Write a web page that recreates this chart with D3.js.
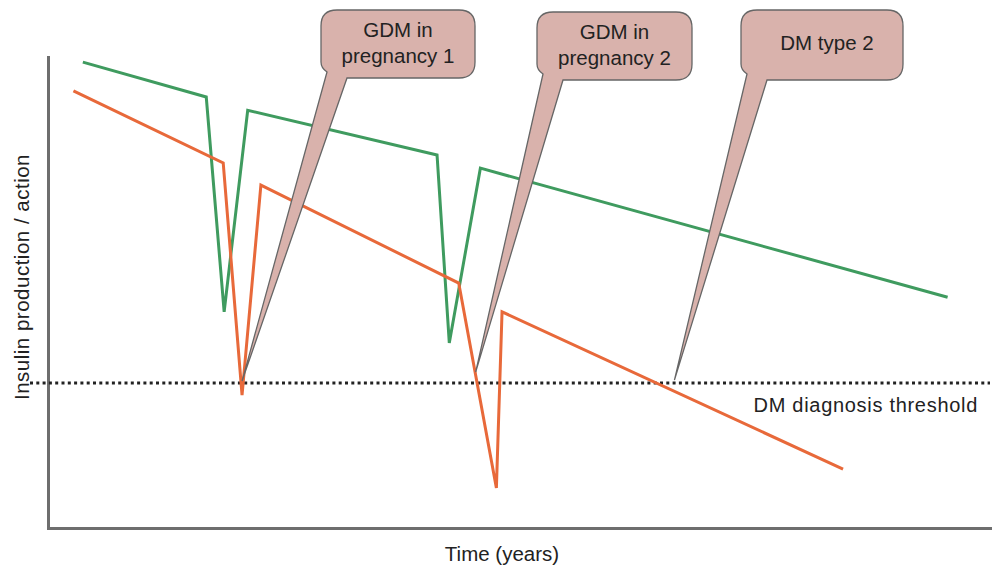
<!DOCTYPE html>
<html><head><meta charset="utf-8">
<script src="https://cdn.jsdelivr.net/npm/d3@7"></script>
<style>
html,body{margin:0;padding:0;background:#fff;}
svg{display:block;font-family:"Liberation Sans",Arial,Helvetica,sans-serif;}
</style></head>
<body>
<svg id="chart" width="992" height="566"></svg>
<script>
// ---- data (time units 0..100, insulin production/action 0..100) ----
const greenTime  = [3.7, 16.8, 18.7, 21.2, 41.3, 42.6, 45.9, 95.5];
const greenValue = [98.9, 91.5, 45.9, 88.7, 79.2, 39.3, 76.4, 49.0];
const orangeTime  = [2.7, 18.6, 20.6, 22.6, 43.6, 47.6, 48.2, 84.4];
const orangeValue = [92.8, 77.5, 28.2, 72.8, 52.0, 8.5, 45.9, 12.5];
const thresholdValue = 30.8;
const thresholdLabel = "DM diagnosis threshold";
const calloutLabels = [["GDM in", "pregnancy 1"], ["GDM in", "pregnancy 2"], ["DM type 2"]];
const calloutTime  = [20.6, 45.4, 66.5];
const calloutValue = [31.2, 33.1, 31.4];
const xLabel = "Time (years)";
const yLabel = "Insulin production / action";

const svg = d3.select("#chart");
const x = d3.scaleLinear().domain([0, 100]).range([48, 990]);
const y = d3.scaleLinear().domain([0, 100]).range([528, 57]);

// axes (no ticks)
const axisColor = "#6e6e6e";
const gx = svg.append("g").attr("transform", `translate(0,${y(0)})`)
  .call(d3.axisBottom(x).ticks(0).tickSizeOuter(0));
const gy = svg.append("g").attr("transform", `translate(${x(0)},0)`)
  .call(d3.axisLeft(y).ticks(0).tickSizeOuter(0));
[gx, gy].forEach(g => g.select(".domain").attr("stroke", axisColor).attr("stroke-width", 3).attr("stroke-linecap","square"));

// threshold dotted line
svg.append("line")
  .attr("x1", 30).attr("x2", 990)
  .attr("y1", y(thresholdValue)).attr("y2", y(thresholdValue))
  .attr("stroke", "#222").attr("stroke-width", 3).attr("stroke-dasharray", "3,3.3");
svg.append("text").attr("x", 978).attr("y", 412).attr("text-anchor", "end")
  .attr("font-size", 20).attr("fill", "#222").attr("letter-spacing", 0.7).text(thresholdLabel);

// series lines
const line = d3.line().x(d => x(d[0])).y(d => y(d[1]));
const greenData = greenTime.map((t, i) => [t, greenValue[i]]);
const orangeData = orangeTime.map((t, i) => [t, orangeValue[i]]);
svg.append("path").datum(greenData).attr("d", line)
  .attr("fill", "none").attr("stroke", "#3f9b5f").attr("stroke-width", 3).attr("stroke-linejoin", "miter");
svg.append("path").datum(orangeData).attr("d", line)
  .attr("fill", "none").attr("stroke", "#e8693a").attr("stroke-width", 3).attr("stroke-linejoin", "miter");

// callouts
const boxes = [
  {x0: 321, x1: 475, y0: 10, y1: 78},
  {x0: 537, x1: 692, y0: 12, y1: 80},
  {x0: 741, x1: 903, y0: 10, y1: 80}
];
const r = 16;
boxes.forEach((b, i) => {
  const tx = x(calloutTime[i]), ty = y(calloutValue[i]);
  const tailR = b.x0 + 26, tailLx = b.x0 + 6, tailLy = b.y1 - 6;
  const p = `M${b.x0 + r},${b.y0} H${b.x1 - r} Q${b.x1},${b.y0} ${b.x1},${b.y0 + r}
    V${b.y1 - r} Q${b.x1},${b.y1} ${b.x1 - r},${b.y1} H${tailR} L${tx},${ty} L${tailLx},${tailLy}
    Q${b.x0},${b.y1 - 10} ${b.x0},${b.y1 - r} V${b.y0 + r} Q${b.x0},${b.y0} ${b.x0 + r},${b.y0} Z`;
  svg.append("path").attr("d", p).attr("fill", "#d9b2ac").attr("stroke", "#666").attr("stroke-width", 1.3);
  const cx = (b.x0 + b.x1) / 2;
  const lines = calloutLabels[i];
  const t = svg.append("text").attr("text-anchor", "middle").attr("font-size", 20.5).attr("fill", "#222");
  if (lines.length === 2) {
    t.append("tspan").attr("x", cx).attr("y", b.y0 + 27).text(lines[0]);
    t.append("tspan").attr("x", cx).attr("y", b.y0 + 53).text(lines[1]);
  } else {
    t.append("tspan").attr("x", cx + 5).attr("y", b.y0 + 40).text(lines[0]);
  }
});

// axis labels
svg.append("text").attr("x", 502).attr("y", 561).attr("text-anchor", "middle")
  .attr("font-size", 20.5).attr("fill", "#222").text(xLabel);
svg.append("text").attr("transform", "translate(29,277) rotate(-90)").attr("text-anchor", "middle")
  .attr("font-size", 20.5).attr("fill", "#222").attr("letter-spacing", 0.5).text(yLabel);
</script>
</body></html>
